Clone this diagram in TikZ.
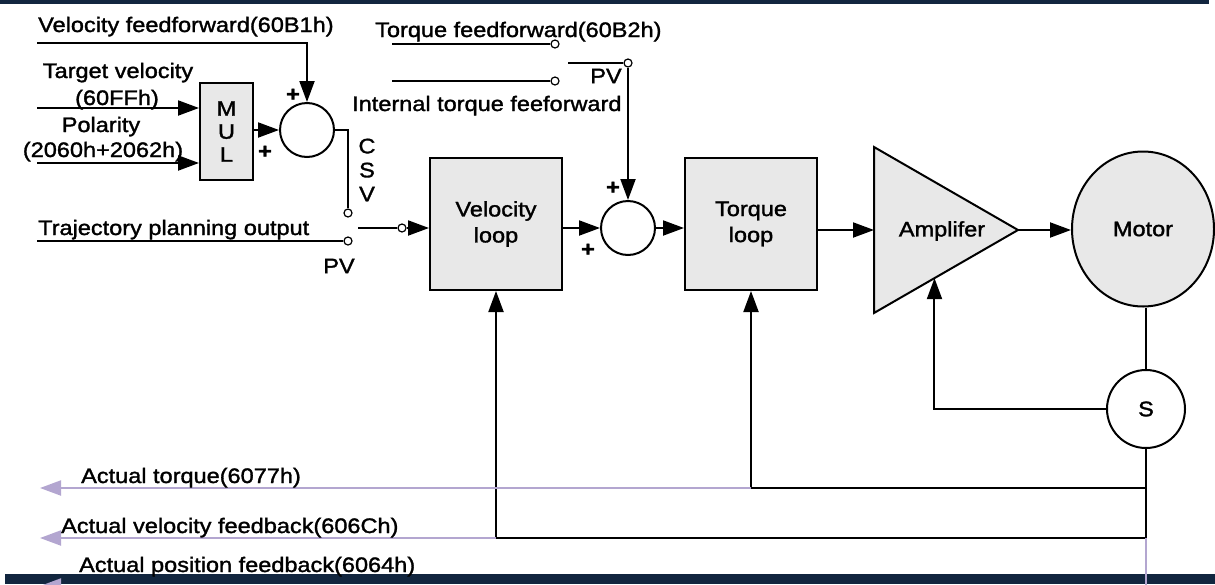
\documentclass[tikz,border=0pt]{standalone}
\usepackage{fontspec}
\setmainfont{Liberation Sans}[FakeStretch=1.12,FakeBold=1.5]
\usetikzlibrary{arrows.meta,calc,shapes.geometric}
\definecolor{Navy}{HTML}{12263F}
\definecolor{Lav}{HTML}{B3A6D0}
\definecolor{Fillg}{HTML}{E8E8E8}
\tikzset{blk/.style={draw,fill=Fillg,line width=2pt,minimum width=132pt,minimum height=132pt,align=center,font=\fontsize{21}{26}\selectfont,inner sep=0pt},sumc/.style={circle,draw,fill=white,line width=2pt,minimum size=54pt,inner sep=0pt},tap/.style={circle,draw,fill=white,line width=1.2pt,minimum size=8pt,inner sep=0pt},wire/.style={line width=2pt},flow/.style={-{Triangle[length=21pt,width=15pt]},line width=2pt},back/.style={flow,draw=Lav,color=Lav},lab/.style={font=\fontsize{21}{24}\selectfont,inner sep=0pt,align=center},sign/.style={font=\fontsize{21}{24}\selectfont\bfseries,inner sep=0pt}}
\begin{document}
\begin{tikzpicture}[x=1pt,y=-1pt]
\useasboundingbox (0,0) rectangle (1215,584);
\node[lab,anchor=base west] (tvff) at (38,32) {Velocity feedforward(60B1h)};
\node[sumc] (s1) at (307,130) {};
\coordinate (vffin) at (37,43);
\draw[flow] (vffin) -| (s1.north);
\node[sign] (p1) at (293,95) {+};
\node[lab,anchor=base] (ttv) at (118,78) {Target velocity};
\node[lab,anchor=base] (t60ff) at (117,105) {(60FFh)};
\node[lab,anchor=base] (tpol) at (101,132) {Polarity};
\node[lab,anchor=base] (tpolh) at (103,157) {(2060h+2062h)};
\node[blk,minimum width=53pt,minimum height=97pt,font=\fontsize{21}{23}\selectfont] (mul) at (226.5,131.5) {M\\U\\L};
\coordinate (tvin) at (37,108);
\coordinate (polin) at (37,163);
\draw[flow] (tvin) -- (tvin -| mul.west);
\draw[flow] (polin) -- (polin -| mul.west);
\draw[flow] (mul.east |- s1.west) -- (s1.west);
\node[sign] (p2) at (265,152) {+};
\node[tap] (csvc) at (348,213) {};
\draw[wire] (s1.east) -| (csvc.north);
\node[lab] (tcsv) at (367,170) {C\\S\\V};
\node[lab,anchor=base west] (ttraj) at (38,235) {Trajectory planning output};
\node[tap] (pvc) at (348,241) {};
\coordinate (trin) at (37,241);
\draw[wire] (trin) -- (pvc.west);
\node[lab] (tpv1) at (339,266) {PV};
\node[blk] (vel) at (496,224) {Velocity\\loop};
\coordinate (swo) at (358,228);
\node[tap] (outc) at (402,228) {};
\draw[wire] (swo) -- (outc.west);
\draw[flow] (outc.east) -- (outc.east -| vel.west);
\node[lab,anchor=base west] (ttff) at (375,37) {Torque feedforward(60B2h)};
\node[lab,anchor=base west] (titf) at (352,111) {Internal torque feeforward};
\coordinate (tffin) at (392,44);
\coordinate (itfin) at (392,81);
\node[tap] (tffc) at (555,44) {};
\node[tap] (itfc) at (555,81) {};
\draw[wire] (tffin) -- (tffc.west);
\draw[wire] (itfin) -- (itfc.west);
\coordinate (tsw) at (568,63);
\node[tap] (tswc) at (628,63) {};
\draw[wire] (tsw) -- (tswc.west);
\node[lab] (tpv2) at (606,76) {PV};
\node[sumc] (s2) at (628,228) {};
\draw[flow] (tswc.south) -- (s2.north);
\draw[flow] (vel.east |- s2.west) -- (s2.west);
\node[sign] (p3) at (613,188) {+};
\node[sign] (p4) at (588,250) {+};
\node[blk] (tq) at (751,224) {Torque\\loop};
\draw[flow] (s2.east) -- (s2.east -| tq.west);
\coordinate (ampT) at (874,147);
\coordinate (ampB) at (874,313);
\coordinate (ampO) at (1018,230);
\filldraw[wire,fill=Fillg] (ampT) -- (ampO) -- (ampB) -- cycle;
\node[lab] (amp) at (942,231) {Amplifer};
\draw[flow] (tq.east |- ampO) -- (ampO -| ampT);
\node[ellipse,draw,fill=Fillg,line width=2pt,minimum width=142pt,minimum height=155pt,lab] (motor) at (1143,229) {Motor};
\draw[flow] (ampO) -- (ampO -| motor.west);
\node[circle,draw,fill=white,line width=2pt,minimum size=78pt,lab] (sens) at (1146,409) {S};
\draw[wire] (sens.north) -- (sens.north |- motor.south);
\coordinate (ampin) at ($(ampB)!0.42!(ampO)$);
\draw[flow] (sens.west) -| (ampin);
\coordinate (rt) at (1146,488);
\coordinate (rv) at (1146,538);
\coordinate (rp) at (1146,586);
\coordinate (ot) at (40,488);
\coordinate (ov) at (40,538);
\coordinate (op) at (40,586);
\draw[wire] (sens.south) -- (rv);
\draw[flow] (rt) -| (tq.south);
\draw[flow] (rv) -| (vel.south);
\draw[back] (rt -| tq.south) -- (ot);
\draw[back] (rv -| vel.south) -- (ov);
\node[lab,anchor=base west] (tat) at (81,483) {Actual torque(6077h)};
\node[lab,anchor=base west] (tav) at (61,533) {Actual velocity feedback(606Ch)};
\fill[Navy] (0,0) rectangle (1209,3.5);
\fill[Navy] (5,574) rectangle (1215,584);
\draw[back] (rp) -- (op);
\draw[wire,draw=Lav] (rv) -- (rp);
\node[lab,anchor=base west] (tap) at (79,572) {Actual position feedback(6064h)};
\end{tikzpicture}
\end{document}
